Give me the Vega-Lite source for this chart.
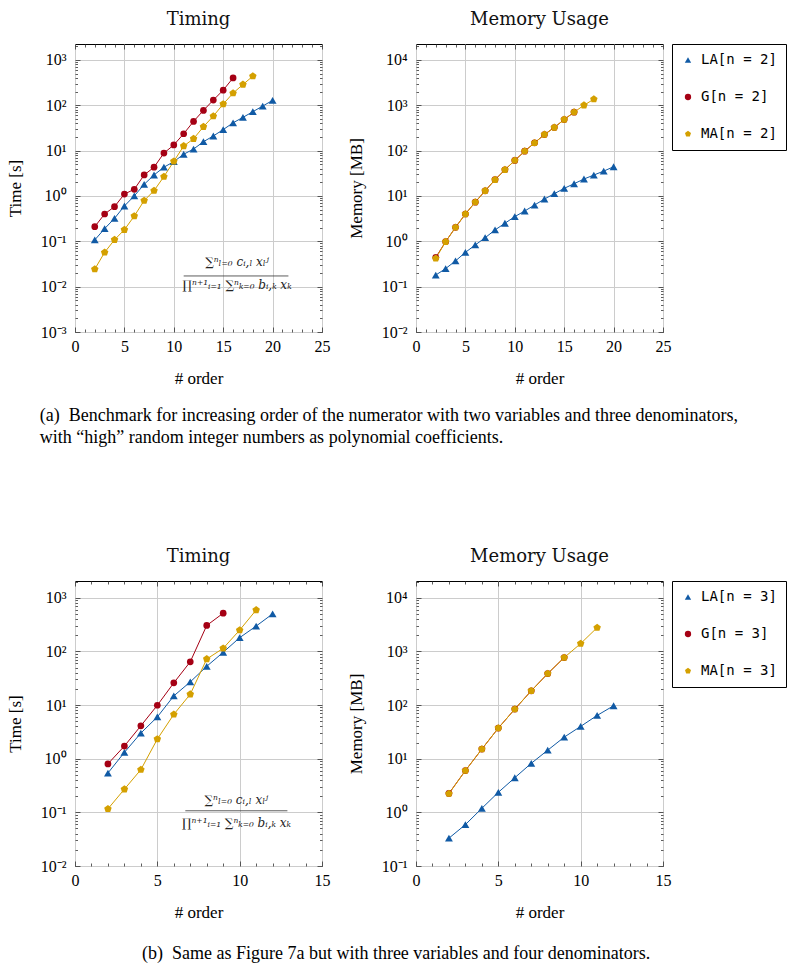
{
  "$schema": "https://vega.github.io/schema/vega-lite/v6.json",
  "padding": {"left": 5, "top": 10, "right": 5, "bottom": 5},
  "background": "white",
  "config": {
    "font": "Liberation Serif",
    "view": {"stroke": "#000", "strokeWidth": 1},
    "axis": {"domain": false, "labelFont": "Liberation Serif", "labelFontSize": 16, "labelColor": "#000", "titleFont": "Liberation Serif", "titleFontSize": 17, "titleFontWeight": "normal", "titleColor": "#000", "tickColor": "#333", "tickWidth": 0.8, "gridColor": "#cccccc", "gridWidth": 1},
    "title": {"font": "DejaVu Serif", "fontSize": 18, "fontWeight": "normal", "color": "#111"},
    "legend": {"strokeColor": "#000", "strokeWidth": 1, "padding": 9, "labelFont": "DejaVu Sans Mono", "labelFontSize": 14, "labelColor": "#000", "symbolSize": 40, "rowPadding": 23, "labelOffset": 6, "offset": 0, "symbolStrokeWidth": 0, "cornerRadius": 0}
  },
  "datasets": {
    "t2": [
      {"order":2,"series":"LA[n = 2]","value":0.107},{"order":3,"series":"LA[n = 2]","value":0.19},{"order":4,"series":"LA[n = 2]","value":0.32},{"order":5,"series":"LA[n = 2]","value":0.6},{"order":6,"series":"LA[n = 2]","value":1.0},{"order":7,"series":"LA[n = 2]","value":1.8},{"order":8,"series":"LA[n = 2]","value":2.9},{"order":9,"series":"LA[n = 2]","value":4.3},{"order":10,"series":"LA[n = 2]","value":5.7},{"order":11,"series":"LA[n = 2]","value":8.3},{"order":12,"series":"LA[n = 2]","value":10.8},{"order":13,"series":"LA[n = 2]","value":15.7},{"order":14,"series":"LA[n = 2]","value":21},{"order":15,"series":"LA[n = 2]","value":29},{"order":16,"series":"LA[n = 2]","value":41},{"order":17,"series":"LA[n = 2]","value":54},{"order":18,"series":"LA[n = 2]","value":72},{"order":19,"series":"LA[n = 2]","value":96},{"order":20,"series":"LA[n = 2]","value":128},
      {"order":2,"series":"G[n = 2]","value":0.21},{"order":3,"series":"G[n = 2]","value":0.4},{"order":4,"series":"G[n = 2]","value":0.58},{"order":5,"series":"G[n = 2]","value":1.1},{"order":6,"series":"G[n = 2]","value":1.4},{"order":7,"series":"G[n = 2]","value":2.9},{"order":8,"series":"G[n = 2]","value":4.3},{"order":9,"series":"G[n = 2]","value":8.8},{"order":10,"series":"G[n = 2]","value":13.3},{"order":11,"series":"G[n = 2]","value":23.5},{"order":12,"series":"G[n = 2]","value":44},{"order":13,"series":"G[n = 2]","value":77},{"order":14,"series":"G[n = 2]","value":130},{"order":15,"series":"G[n = 2]","value":215},{"order":16,"series":"G[n = 2]","value":400},
      {"order":2,"series":"MA[n = 2]","value":0.0243},{"order":3,"series":"MA[n = 2]","value":0.057},{"order":4,"series":"MA[n = 2]","value":0.108},{"order":5,"series":"MA[n = 2]","value":0.18},{"order":6,"series":"MA[n = 2]","value":0.36},{"order":7,"series":"MA[n = 2]","value":0.79},{"order":8,"series":"MA[n = 2]","value":1.31},{"order":9,"series":"MA[n = 2]","value":2.67},{"order":10,"series":"MA[n = 2]","value":5.8},{"order":11,"series":"MA[n = 2]","value":12.6},{"order":12,"series":"MA[n = 2]","value":18.2},{"order":13,"series":"MA[n = 2]","value":33.6},{"order":14,"series":"MA[n = 2]","value":57.5},{"order":15,"series":"MA[n = 2]","value":106},{"order":16,"series":"MA[n = 2]","value":185},{"order":17,"series":"MA[n = 2]","value":287},{"order":18,"series":"MA[n = 2]","value":437}
    ],
    "m2": [
      {"order":2,"series":"LA[n = 2]","value":0.18},{"order":3,"series":"LA[n = 2]","value":0.25},{"order":4,"series":"LA[n = 2]","value":0.37},{"order":5,"series":"LA[n = 2]","value":0.57},{"order":6,"series":"LA[n = 2]","value":0.83},{"order":7,"series":"LA[n = 2]","value":1.2},{"order":8,"series":"LA[n = 2]","value":1.78},{"order":9,"series":"LA[n = 2]","value":2.5},{"order":10,"series":"LA[n = 2]","value":3.5},{"order":11,"series":"LA[n = 2]","value":4.65},{"order":12,"series":"LA[n = 2]","value":6.3},{"order":13,"series":"LA[n = 2]","value":8.55},{"order":14,"series":"LA[n = 2]","value":11.2},{"order":15,"series":"LA[n = 2]","value":14.7},{"order":16,"series":"LA[n = 2]","value":18.6},{"order":17,"series":"LA[n = 2]","value":23.6},{"order":18,"series":"LA[n = 2]","value":28.9},{"order":19,"series":"LA[n = 2]","value":35.3},{"order":20,"series":"LA[n = 2]","value":44},
      {"order":2,"series":"G[n = 2]","value":0.44},{"order":3,"series":"G[n = 2]","value":0.98},{"order":4,"series":"G[n = 2]","value":2.03},{"order":5,"series":"G[n = 2]","value":4.0},{"order":6,"series":"G[n = 2]","value":7.3},{"order":7,"series":"G[n = 2]","value":13},{"order":8,"series":"G[n = 2]","value":22.8},{"order":9,"series":"G[n = 2]","value":37.8},{"order":10,"series":"G[n = 2]","value":60.7},{"order":11,"series":"G[n = 2]","value":97},{"order":12,"series":"G[n = 2]","value":148},{"order":13,"series":"G[n = 2]","value":226},{"order":14,"series":"G[n = 2]","value":323},{"order":15,"series":"G[n = 2]","value":484},{"order":16,"series":"G[n = 2]","value":703},
      {"order":2,"series":"MA[n = 2]","value":0.42},{"order":3,"series":"MA[n = 2]","value":0.98},{"order":4,"series":"MA[n = 2]","value":2.03},{"order":5,"series":"MA[n = 2]","value":4.0},{"order":6,"series":"MA[n = 2]","value":7.3},{"order":7,"series":"MA[n = 2]","value":13},{"order":8,"series":"MA[n = 2]","value":22.8},{"order":9,"series":"MA[n = 2]","value":37.8},{"order":10,"series":"MA[n = 2]","value":60.7},{"order":11,"series":"MA[n = 2]","value":97},{"order":12,"series":"MA[n = 2]","value":148},{"order":13,"series":"MA[n = 2]","value":226},{"order":14,"series":"MA[n = 2]","value":323},{"order":15,"series":"MA[n = 2]","value":484},{"order":16,"series":"MA[n = 2]","value":703},{"order":17,"series":"MA[n = 2]","value":1000},{"order":18,"series":"MA[n = 2]","value":1360}
    ],
    "t3": [
      {"order":2,"series":"LA[n = 3]","value":0.54},{"order":3,"series":"LA[n = 3]","value":1.31},{"order":4,"series":"LA[n = 3]","value":3.0},{"order":5,"series":"LA[n = 3]","value":6.0},{"order":6,"series":"LA[n = 3]","value":14.8},{"order":7,"series":"LA[n = 3]","value":27},{"order":8,"series":"LA[n = 3]","value":52.7},{"order":9,"series":"LA[n = 3]","value":96},{"order":10,"series":"LA[n = 3]","value":180},{"order":11,"series":"LA[n = 3]","value":296},{"order":12,"series":"LA[n = 3]","value":500},
      {"order":2,"series":"G[n = 3]","value":0.8},{"order":3,"series":"G[n = 3]","value":1.72},{"order":4,"series":"G[n = 3]","value":4.1},{"order":5,"series":"G[n = 3]","value":9.9},{"order":6,"series":"G[n = 3]","value":25.9},{"order":7,"series":"G[n = 3]","value":64},{"order":8,"series":"G[n = 3]","value":304},{"order":9,"series":"G[n = 3]","value":515},
      {"order":2,"series":"MA[n = 3]","value":0.116},{"order":3,"series":"MA[n = 3]","value":0.27},{"order":4,"series":"MA[n = 3]","value":0.625},{"order":5,"series":"MA[n = 3]","value":2.32},{"order":6,"series":"MA[n = 3]","value":6.7},{"order":7,"series":"MA[n = 3]","value":15.9},{"order":8,"series":"MA[n = 3]","value":72},{"order":9,"series":"MA[n = 3]","value":114},{"order":10,"series":"MA[n = 3]","value":249},{"order":11,"series":"MA[n = 3]","value":589}
    ],
    "m3": [
      {"order":2,"series":"LA[n = 3]","value":0.33},{"order":3,"series":"LA[n = 3]","value":0.59},{"order":4,"series":"LA[n = 3]","value":1.19},{"order":5,"series":"LA[n = 3]","value":2.36},{"order":6,"series":"LA[n = 3]","value":4.42},{"order":7,"series":"LA[n = 3]","value":8.2},{"order":8,"series":"LA[n = 3]","value":14.4},{"order":9,"series":"LA[n = 3]","value":25.2},{"order":10,"series":"LA[n = 3]","value":40},{"order":11,"series":"LA[n = 3]","value":64},{"order":12,"series":"LA[n = 3]","value":97},
      {"order":2,"series":"G[n = 3]","value":2.25},{"order":3,"series":"G[n = 3]","value":6.0},{"order":4,"series":"G[n = 3]","value":15.1},{"order":5,"series":"G[n = 3]","value":37.2},{"order":6,"series":"G[n = 3]","value":84},{"order":7,"series":"G[n = 3]","value":184},{"order":8,"series":"G[n = 3]","value":386},{"order":9,"series":"G[n = 3]","value":767},
      {"order":2,"series":"MA[n = 3]","value":2.23},{"order":3,"series":"MA[n = 3]","value":6.0},{"order":4,"series":"MA[n = 3]","value":15.1},{"order":5,"series":"MA[n = 3]","value":37.2},{"order":6,"series":"MA[n = 3]","value":84},{"order":7,"series":"MA[n = 3]","value":184},{"order":8,"series":"MA[n = 3]","value":386},{"order":9,"series":"MA[n = 3]","value":767},{"order":10,"series":"MA[n = 3]","value":1397},{"order":11,"series":"MA[n = 3]","value":2773}
    ]
  },
  "resolve": {"scale": {"color": "independent", "shape": "independent", "stroke": "independent"}},
  "spacing": 100,
  "vconcat": [
    {
      "title": {"text": ["(a)\u2002Benchmark for increasing order of the numerator with two variables and three denominators,", "with “high” random integer numbers as polynomial coefficients."], "orient": "bottom", "anchor": "start", "dx": 34, "offset": 20, "fontSize": 18, "font": "Liberation Serif", "fontWeight": "normal", "lineHeight": 22, "color": "#000", "frame": "bounds"},
      "spacing": 15,
      "hconcat": [
        {
          "width": 247, "height": 288,
          "title": {"text": "Timing", "offset": 15, "frame": "group", "anchor": "middle"},
          "resolve": {"axis": {"x": "independent", "y": "independent"}},
          "layer": [
            {
              "data": {"name": "t2"},
              "mark": {"type": "line", "strokeWidth": 1},
              "encoding": {
                "x": {"field": "order", "type": "quantitative", "scale": {"domain": [0, 25], "nice": false, "zero": false},
                  "axis": {"orient": "bottom", "title": "# order", "values": [0,1,2,3,4,5,6,7,8,9,10,11,12,13,14,15,16,17,18,19,20,21,22,23,24,25], "labelExpr": "datum.value % 5 === 0 ? datum.label : ''", "gridOpacity": {"condition": {"test": "datum.value % 5 === 0", "value": 1}, "value": 0}, "tickSize": {"condition": {"test": "datum.value % 5 === 0", "value": -5}, "value": -3}, "labelPadding": 11, "titlePadding": 16, "labelFlush": false}},
                "y": {"field": "value", "type": "quantitative", "scale": {"type": "log", "domain": [0.001, 2240], "nice": false},
                  "axis": {"orient": "left", "title": "Time [s]", "values": [0.001,0.002,0.003,0.004,0.005,0.006,0.007,0.008,0.009,0.01,0.02,0.03,0.04,0.05,0.06,0.07,0.08,0.09,0.1,0.2,0.3,0.4,0.5,0.6,0.7,0.8,0.9,1,2,3,4,5,6,7,8,9,10,20,30,40,50,60,70,80,90,100,200,300,400,500,600,700,800,900,1000,2000], "labelExpr": "abs(log(datum.value)/LN10-round(log(datum.value)/LN10))<0.000001 ? ['10⁻³','10⁻²','10⁻¹','10⁰','10¹','10²','10³','10⁴'][round(log(datum.value)/LN10)+3] : ''", "gridOpacity": {"condition": {"test": "abs(log(datum.value)/LN10-round(log(datum.value)/LN10))<0.000001", "value": 1}, "value": 0}, "tickSize": {"condition": {"test": "abs(log(datum.value)/LN10-round(log(datum.value)/LN10))<0.000001", "value": -5}, "value": -2.5}, "labelPadding": 14, "titlePadding": 16, "labelFlush": false}},
                "stroke": {"field": "series", "type": "nominal", "scale": {"domain": ["MA[n = 2]", "G[n = 2]", "LA[n = 2]"], "range": ["#d4a000", "#a50014", "#105aa5"]}, "legend": null}
              }
            },
            {
              "data": {"name": "t2"},
              "mark": {"type": "point", "filled": true, "opacity": 1},
              "encoding": {
                "x": {"field": "order", "type": "quantitative", "axis": {"orient": "top", "title": null, "labels": false, "grid": false, "values": [0,1,2,3,4,5,6,7,8,9,10,11,12,13,14,15,16,17,18,19,20,21,22,23,24,25], "tickSize": {"condition": {"test": "datum.value % 5 === 0", "value": -5}, "value": -3}}},
                "y": {"field": "value", "type": "quantitative", "axis": {"orient": "right", "title": null, "labels": false, "grid": false, "values": [0.001,0.002,0.003,0.004,0.005,0.006,0.007,0.008,0.009,0.01,0.02,0.03,0.04,0.05,0.06,0.07,0.08,0.09,0.1,0.2,0.3,0.4,0.5,0.6,0.7,0.8,0.9,1,2,3,4,5,6,7,8,9,10,20,30,40,50,60,70,80,90,100,200,300,400,500,600,700,800,900,1000,2000], "tickSize": {"condition": {"test": "abs(log(datum.value)/LN10-round(log(datum.value)/LN10))<0.000001", "value": -5}, "value": -2.5}}},
                "color": {"field": "series", "type": "nominal", "scale": {"domain": ["LA[n = 2]", "G[n = 2]", "MA[n = 2]"], "range": ["#105aa5", "#a50014", "#d4a000"]}, "legend": {"title": null}},
                "shape": {"field": "series", "type": "nominal", "scale": {"domain": ["LA[n = 2]", "G[n = 2]", "MA[n = 2]"], "range": ["triangle-up", "circle", "M0,-1L0.951,-0.309L0.588,0.809L-0.588,0.809L-0.951,-0.309Z"]}, "legend": {"title": null}},
                "size": {"condition": {"test": "datum.series === 'G[n = 2]'", "value": 45}, "value": 62}
              }
            },
            {
              "data": {"values": [{"order": 16.4, "value": 0.035, "label": "∑ⁿₗ₌₀ cᵢ,ₗ xₗʲ"}, {"order": 16.4, "value": 0.0108, "label": "∏ⁿ⁺¹ᵢ₌₁ ∑ⁿₖ₌₀ bᵢ,ₖ xₖ"}]},
              "mark": {"type": "text", "font": "DejaVu Serif", "fontStyle": "italic", "fontSize": 12, "color": "#222", "baseline": "middle", "align": "center"},
              "encoding": {
                "x": {"field": "order", "type": "quantitative", "axis": null},
                "y": {"field": "value", "type": "quantitative", "axis": null},
                "text": {"field": "label"}
              }
            },
            {
              "data": {"values": [{"order": 11.0, "order2": 21.6, "value": 0.0172}]},
              "mark": {"type": "rule", "color": "#333", "strokeWidth": 0.8},
              "encoding": {
                "x": {"field": "order", "type": "quantitative", "axis": null},
                "x2": {"field": "order2"},
                "y": {"field": "value", "type": "quantitative", "axis": null}
              }
            }
          ]
        },
        {
          "width": 247, "height": 288,
          "title": {"text": "Memory Usage", "offset": 15, "frame": "group", "anchor": "middle"},
          "resolve": {"axis": {"x": "independent", "y": "independent"}},
          "data": {"name": "m2"},
          "layer": [
            {
              "mark": {"type": "line", "strokeWidth": 1},
              "encoding": {
                "x": {"field": "order", "type": "quantitative", "scale": {"domain": [0, 25], "nice": false, "zero": false},
                  "axis": {"orient": "bottom", "title": "# order", "values": [0,1,2,3,4,5,6,7,8,9,10,11,12,13,14,15,16,17,18,19,20,21,22,23,24,25], "labelExpr": "datum.value % 5 === 0 ? datum.label : ''", "gridOpacity": {"condition": {"test": "datum.value % 5 === 0", "value": 1}, "value": 0}, "tickSize": {"condition": {"test": "datum.value % 5 === 0", "value": -5}, "value": -3}, "labelPadding": 11, "titlePadding": 16, "labelFlush": false}},
                "y": {"field": "value", "type": "quantitative", "scale": {"type": "log", "domain": [0.01, 22400], "nice": false},
                  "axis": {"orient": "left", "title": "Memory [MB]", "values": [0.01,0.02,0.03,0.04,0.05,0.06,0.07,0.08,0.09,0.1,0.2,0.3,0.4,0.5,0.6,0.7,0.8,0.9,1,2,3,4,5,6,7,8,9,10,20,30,40,50,60,70,80,90,100,200,300,400,500,600,700,800,900,1000,2000,3000,4000,5000,6000,7000,8000,9000,10000,20000], "labelExpr": "abs(log(datum.value)/LN10-round(log(datum.value)/LN10))<0.000001 ? ['10⁻³','10⁻²','10⁻¹','10⁰','10¹','10²','10³','10⁴'][round(log(datum.value)/LN10)+3] : ''", "gridOpacity": {"condition": {"test": "abs(log(datum.value)/LN10-round(log(datum.value)/LN10))<0.000001", "value": 1}, "value": 0}, "tickSize": {"condition": {"test": "abs(log(datum.value)/LN10-round(log(datum.value)/LN10))<0.000001", "value": -5}, "value": -2.5}, "labelPadding": 14, "titlePadding": 16, "labelFlush": false}},
                "stroke": {"field": "series", "type": "nominal", "scale": {"domain": ["MA[n = 2]", "G[n = 2]", "LA[n = 2]"], "range": ["#d4a000", "#a50014", "#105aa5"]}, "legend": null}
              }
            },
            {
              "mark": {"type": "point", "filled": true, "opacity": 1},
              "encoding": {
                "x": {"field": "order", "type": "quantitative", "axis": {"orient": "top", "title": null, "labels": false, "grid": false, "values": [0,1,2,3,4,5,6,7,8,9,10,11,12,13,14,15,16,17,18,19,20,21,22,23,24,25], "tickSize": {"condition": {"test": "datum.value % 5 === 0", "value": -5}, "value": -3}}},
                "y": {"field": "value", "type": "quantitative", "axis": {"orient": "right", "title": null, "labels": false, "grid": false, "values": [0.01,0.02,0.03,0.04,0.05,0.06,0.07,0.08,0.09,0.1,0.2,0.3,0.4,0.5,0.6,0.7,0.8,0.9,1,2,3,4,5,6,7,8,9,10,20,30,40,50,60,70,80,90,100,200,300,400,500,600,700,800,900,1000,2000,3000,4000,5000,6000,7000,8000,9000,10000,20000], "tickSize": {"condition": {"test": "abs(log(datum.value)/LN10-round(log(datum.value)/LN10))<0.000001", "value": -5}, "value": -2.5}}},
                "color": {"field": "series", "type": "nominal", "scale": {"domain": ["LA[n = 2]", "G[n = 2]", "MA[n = 2]"], "range": ["#105aa5", "#a50014", "#d4a000"]}, "legend": {"title": null}},
                "shape": {"field": "series", "type": "nominal", "scale": {"domain": ["LA[n = 2]", "G[n = 2]", "MA[n = 2]"], "range": ["triangle-up", "circle", "M0,-1L0.951,-0.309L0.588,0.809L-0.588,0.809L-0.951,-0.309Z"]}, "legend": {"title": null}},
                "size": {"condition": {"test": "datum.series === 'G[n = 2]'", "value": 45}, "value": 62}
              }
            }
          ]
        }
      ]
    },
    {
      "title": {"text": "(b)\u2002Same as Figure 7a but with three variables and four denominators.", "orient": "bottom", "anchor": "middle", "offset": 24, "fontSize": 18, "font": "Liberation Serif", "fontWeight": "normal", "color": "#000", "frame": "bounds"},
      "spacing": 15,
      "hconcat": [
        {
          "width": 247, "height": 285,
          "title": {"text": "Timing", "offset": 15, "frame": "group", "anchor": "middle"},
          "resolve": {"axis": {"x": "independent", "y": "independent"}},
          "layer": [
            {
              "data": {"name": "t3"},
              "mark": {"type": "line", "strokeWidth": 1},
              "encoding": {
                "x": {"field": "order", "type": "quantitative", "scale": {"domain": [0, 15], "nice": false, "zero": false},
                  "axis": {"orient": "bottom", "title": "# order", "values": [0,1,2,3,4,5,6,7,8,9,10,11,12,13,14,15], "labelExpr": "datum.value % 5 === 0 ? datum.label : ''", "gridOpacity": {"condition": {"test": "datum.value % 5 === 0", "value": 1}, "value": 0}, "tickSize": {"condition": {"test": "datum.value % 5 === 0", "value": -5}, "value": -3}, "labelPadding": 11, "titlePadding": 16, "labelFlush": false}},
                "y": {"field": "value", "type": "quantitative", "scale": {"type": "log", "domain": [0.01, 2050], "nice": false},
                  "axis": {"orient": "left", "title": "Time [s]", "values": [0.01,0.02,0.03,0.04,0.05,0.06,0.07,0.08,0.09,0.1,0.2,0.3,0.4,0.5,0.6,0.7,0.8,0.9,1,2,3,4,5,6,7,8,9,10,20,30,40,50,60,70,80,90,100,200,300,400,500,600,700,800,900,1000,2000], "labelExpr": "abs(log(datum.value)/LN10-round(log(datum.value)/LN10))<0.000001 ? ['10⁻³','10⁻²','10⁻¹','10⁰','10¹','10²','10³','10⁴'][round(log(datum.value)/LN10)+3] : ''", "gridOpacity": {"condition": {"test": "abs(log(datum.value)/LN10-round(log(datum.value)/LN10))<0.000001", "value": 1}, "value": 0}, "tickSize": {"condition": {"test": "abs(log(datum.value)/LN10-round(log(datum.value)/LN10))<0.000001", "value": -5}, "value": -2.5}, "labelPadding": 14, "titlePadding": 16, "labelFlush": false}},
                "stroke": {"field": "series", "type": "nominal", "scale": {"domain": ["MA[n = 3]", "G[n = 3]", "LA[n = 3]"], "range": ["#d4a000", "#a50014", "#105aa5"]}, "legend": null}
              }
            },
            {
              "data": {"name": "t3"},
              "mark": {"type": "point", "filled": true, "opacity": 1},
              "encoding": {
                "x": {"field": "order", "type": "quantitative", "axis": {"orient": "top", "title": null, "labels": false, "grid": false, "values": [0,1,2,3,4,5,6,7,8,9,10,11,12,13,14,15], "tickSize": {"condition": {"test": "datum.value % 5 === 0", "value": -5}, "value": -3}}},
                "y": {"field": "value", "type": "quantitative", "axis": {"orient": "right", "title": null, "labels": false, "grid": false, "values": [0.01,0.02,0.03,0.04,0.05,0.06,0.07,0.08,0.09,0.1,0.2,0.3,0.4,0.5,0.6,0.7,0.8,0.9,1,2,3,4,5,6,7,8,9,10,20,30,40,50,60,70,80,90,100,200,300,400,500,600,700,800,900,1000,2000], "tickSize": {"condition": {"test": "abs(log(datum.value)/LN10-round(log(datum.value)/LN10))<0.000001", "value": -5}, "value": -2.5}}},
                "color": {"field": "series", "type": "nominal", "scale": {"domain": ["LA[n = 3]", "G[n = 3]", "MA[n = 3]"], "range": ["#105aa5", "#a50014", "#d4a000"]}, "legend": {"title": null}},
                "shape": {"field": "series", "type": "nominal", "scale": {"domain": ["LA[n = 3]", "G[n = 3]", "MA[n = 3]"], "range": ["triangle-up", "circle", "M0,-1L0.951,-0.309L0.588,0.809L-0.588,0.809L-0.951,-0.309Z"]}, "legend": {"title": null}},
                "size": {"condition": {"test": "datum.series === 'G[n = 3]'", "value": 45}, "value": 62}
              }
            },
            {
              "data": {"values": [{"order": 9.8, "value": 0.17, "label": "∑ⁿₗ₌₀ cᵢ,ₗ xₗʲ"}, {"order": 9.8, "value": 0.064, "label": "∏ⁿ⁺¹ᵢ₌₁ ∑ⁿₖ₌₀ bᵢ,ₖ xₖ"}]},
              "mark": {"type": "text", "font": "DejaVu Serif", "fontStyle": "italic", "fontSize": 12, "color": "#222", "baseline": "middle", "align": "center"},
              "encoding": {
                "x": {"field": "order", "type": "quantitative", "axis": null},
                "y": {"field": "value", "type": "quantitative", "axis": null},
                "text": {"field": "label"}
              }
            },
            {
              "data": {"values": [{"order": 6.7, "order2": 12.9, "value": 0.107}]},
              "mark": {"type": "rule", "color": "#333", "strokeWidth": 0.8},
              "encoding": {
                "x": {"field": "order", "type": "quantitative", "axis": null},
                "x2": {"field": "order2"},
                "y": {"field": "value", "type": "quantitative", "axis": null}
              }
            }
          ]
        },
        {
          "width": 247, "height": 285,
          "title": {"text": "Memory Usage", "offset": 15, "frame": "group", "anchor": "middle"},
          "resolve": {"axis": {"x": "independent", "y": "independent"}},
          "data": {"name": "m3"},
          "layer": [
            {
              "mark": {"type": "line", "strokeWidth": 1},
              "encoding": {
                "x": {"field": "order", "type": "quantitative", "scale": {"domain": [0, 15], "nice": false, "zero": false},
                  "axis": {"orient": "bottom", "title": "# order", "values": [0,1,2,3,4,5,6,7,8,9,10,11,12,13,14,15], "labelExpr": "datum.value % 5 === 0 ? datum.label : ''", "gridOpacity": {"condition": {"test": "datum.value % 5 === 0", "value": 1}, "value": 0}, "tickSize": {"condition": {"test": "datum.value % 5 === 0", "value": -5}, "value": -3}, "labelPadding": 11, "titlePadding": 16, "labelFlush": false}},
                "y": {"field": "value", "type": "quantitative", "scale": {"type": "log", "domain": [0.1, 20500], "nice": false},
                  "axis": {"orient": "left", "title": "Memory [MB]", "values": [0.1,0.2,0.3,0.4,0.5,0.6,0.7,0.8,0.9,1,2,3,4,5,6,7,8,9,10,20,30,40,50,60,70,80,90,100,200,300,400,500,600,700,800,900,1000,2000,3000,4000,5000,6000,7000,8000,9000,10000,20000], "labelExpr": "abs(log(datum.value)/LN10-round(log(datum.value)/LN10))<0.000001 ? ['10⁻³','10⁻²','10⁻¹','10⁰','10¹','10²','10³','10⁴'][round(log(datum.value)/LN10)+3] : ''", "gridOpacity": {"condition": {"test": "abs(log(datum.value)/LN10-round(log(datum.value)/LN10))<0.000001", "value": 1}, "value": 0}, "tickSize": {"condition": {"test": "abs(log(datum.value)/LN10-round(log(datum.value)/LN10))<0.000001", "value": -5}, "value": -2.5}, "labelPadding": 14, "titlePadding": 16, "labelFlush": false}},
                "stroke": {"field": "series", "type": "nominal", "scale": {"domain": ["MA[n = 3]", "G[n = 3]", "LA[n = 3]"], "range": ["#d4a000", "#a50014", "#105aa5"]}, "legend": null}
              }
            },
            {
              "mark": {"type": "point", "filled": true, "opacity": 1},
              "encoding": {
                "x": {"field": "order", "type": "quantitative", "axis": {"orient": "top", "title": null, "labels": false, "grid": false, "values": [0,1,2,3,4,5,6,7,8,9,10,11,12,13,14,15], "tickSize": {"condition": {"test": "datum.value % 5 === 0", "value": -5}, "value": -3}}},
                "y": {"field": "value", "type": "quantitative", "axis": {"orient": "right", "title": null, "labels": false, "grid": false, "values": [0.1,0.2,0.3,0.4,0.5,0.6,0.7,0.8,0.9,1,2,3,4,5,6,7,8,9,10,20,30,40,50,60,70,80,90,100,200,300,400,500,600,700,800,900,1000,2000,3000,4000,5000,6000,7000,8000,9000,10000,20000], "tickSize": {"condition": {"test": "abs(log(datum.value)/LN10-round(log(datum.value)/LN10))<0.000001", "value": -5}, "value": -2.5}}},
                "color": {"field": "series", "type": "nominal", "scale": {"domain": ["LA[n = 3]", "G[n = 3]", "MA[n = 3]"], "range": ["#105aa5", "#a50014", "#d4a000"]}, "legend": {"title": null}},
                "shape": {"field": "series", "type": "nominal", "scale": {"domain": ["LA[n = 3]", "G[n = 3]", "MA[n = 3]"], "range": ["triangle-up", "circle", "M0,-1L0.951,-0.309L0.588,0.809L-0.588,0.809L-0.951,-0.309Z"]}, "legend": {"title": null}},
                "size": {"condition": {"test": "datum.series === 'G[n = 3]'", "value": 45}, "value": 62}
              }
            }
          ]
        }
      ]
    }
  ]
}
